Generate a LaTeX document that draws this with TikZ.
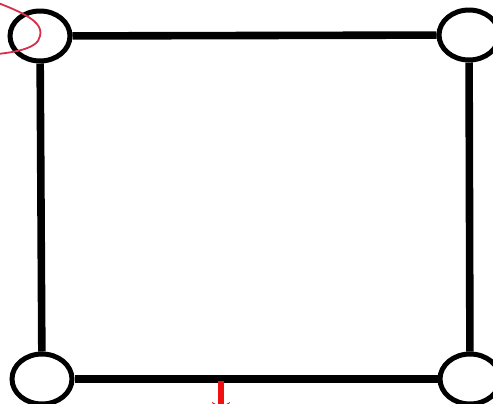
\documentclass[tikz,border=0pt]{standalone}
\usetikzlibrary{arrows.meta, shapes.geometric}
\definecolor{cred}{HTML}{F01010}
\definecolor{cloop}{HTML}{D8304A}
\tikzset{
  every picture/.style={line width=2.5pt},
  vertex/.style={ellipse, draw=black, fill=white, line width=2.5pt, minimum width=30pt, minimum height=25pt, inner sep=0pt},
  edge/.style={draw=black, line width=3.8pt},
  selfloop/.style={draw=cloop, line width=0.9pt},
  cutarrow/.style={-{Stealth[length=8pt, width=9pt]}, draw=cred, line width=2.6pt},
}

\begin{document}
\begin{tikzpicture}[x=0.5pt, y=-0.5pt]
  \useasboundingbox (0,0) rectangle (493,403);
  \clip (0,0) rectangle (493,403);
  \node[vertex] (tl) at (40,36) {};
  \node[vertex] (tr) at (469,35) {};
  \node[vertex] (bl) at (42,379) {};
  \node[vertex] (br) at (470,379) {};
  \draw[edge] (tl) -- (tr);
  \draw[edge] (tr) -- (br);
  \draw[edge] (br) -- (bl);
  \draw[edge] (bl) -- (tl);
  % loop on the top left vertex
  \coordinate (loopin) at (-30,-8);
  \coordinate (loopout) at (-30,56);
  \draw[selfloop] (loopin) .. controls (10,8) and (45,18) .. (tl.center)
    .. controls (38,50) and (10,54) .. (loopout);
  % cut on the bottom edge
  \coordinate (cut) at (221,381);
  \coordinate (cutend) at (221,418);
  \draw[cutarrow] (cut) -- (cutend);
\end{tikzpicture}
\end{document}
